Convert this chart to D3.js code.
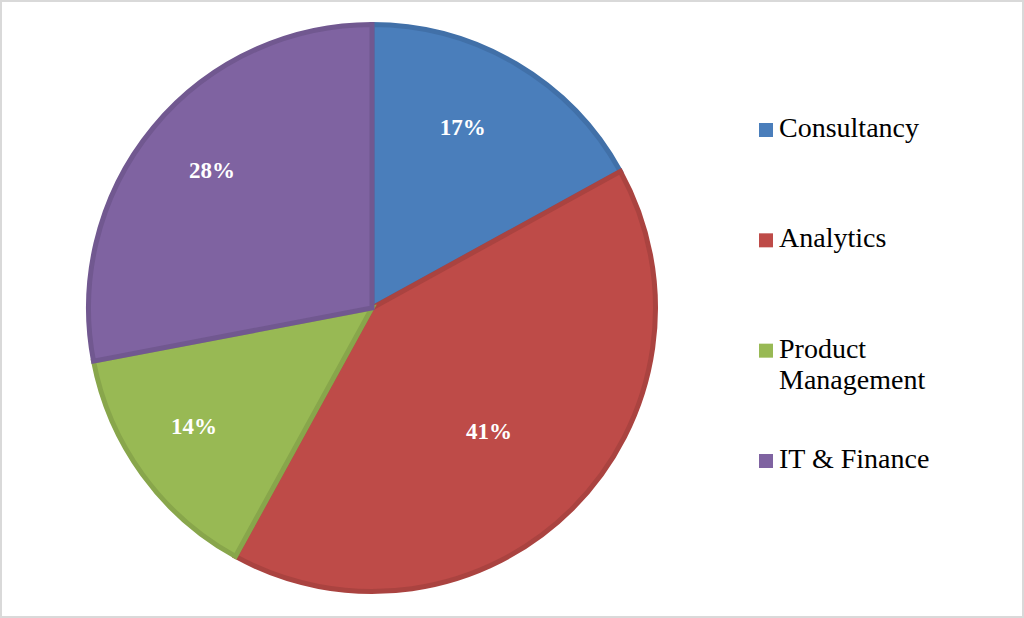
<!DOCTYPE html>
<html>
<head>
<meta charset="utf-8">
<script src="https://cdn.jsdelivr.net/npm/d3@7"></script>
<style>
  html, body { margin: 0; padding: 0; background: #fff; }
  svg { display: block; }
  .serif { font-family: "Liberation Serif", "Times New Roman", Times, serif; }
</style>
</head>
<body>
<div id="chart"></div>
<script>
// chart data
const categories = ["Consultancy", "Analytics", "Product Management", "IT & Finance"];
const values = [17, 41, 14, 28];
const legendLines = [["Consultancy"], ["Analytics"], ["Product", "Management"], ["IT & Finance"]];
const fills = ["#4A7EBB", "#BE4B48", "#98B954", "#7F63A1"];
const strokes = ["#4170A8", "#AA4340", "#88A64B", "#715890"];
// best-fit label placement: share of radius, and angle nudge in degrees
const labelPos = [0.708, 0.595, 0.747, 0.738];
const labelNudge = [-4, 1.6, 2.4, 1.1];

const width = 1024, height = 618;
const cx = 372, cy = 308, R = 286;

const svg = d3.select("#chart").append("svg")
  .attr("width", width)
  .attr("height", height);

// light frame around the chart
svg.append("rect")
  .attr("x", 1).attr("y", 1)
  .attr("width", width - 2).attr("height", height - 2)
  .attr("fill", "none")
  .attr("stroke", "#d9d9d9")
  .attr("stroke-width", 2);

const pie = d3.pie().sort(null).value(d => d);
const arcs = pie(values);

const arc = d3.arc().innerRadius(0).outerRadius(R - 2.5);

const g = svg.append("g").attr("transform", `translate(${cx},${cy})`);

g.selectAll("path.slice")
  .data(arcs)
  .enter().append("path")
  .attr("class", "slice")
  .attr("d", arc)
  .attr("fill", (d, i) => fills[i])
  .attr("stroke", (d, i) => strokes[i])
  .attr("stroke-width", 5);

g.selectAll("text.pct")
  .data(arcs)
  .enter().append("text")
  .attr("class", "pct serif")
  .attr("transform", (d, i) => {
    const a = (d.startAngle + d.endAngle) / 2 + labelNudge[i] * Math.PI / 180;
    const r = R * labelPos[i];
    return `translate(${r * Math.sin(a)},${-r * Math.cos(a)})`;
  })
  .attr("text-anchor", "middle")
  .attr("dy", "0.33em")
  .attr("fill", "#fff")
  .style("font-weight", "bold")
  .style("font-size", "23px")
  .text(d => d.data + "%");

// legend: first-line baselines
const legendY = d3.scalePoint()
  .domain(categories)
  .range([137, 468]);

const item = svg.append("g").selectAll("g.item")
  .data(categories)
  .enter().append("g")
  .attr("class", "item")
  .attr("transform", d => `translate(759,${legendY(d)})`);

item.append("rect")
  .attr("x", 0)
  .attr("y", -14)
  .attr("width", 14)
  .attr("height", 14)
  .attr("fill", (d, i) => fills[i]);

item.each(function (d, i) {
  const t = d3.select(this).append("text")
    .attr("class", "serif")
    .attr("fill", "#000")
    .style("font-size", "28px");
  legendLines[i].forEach((l, j) => {
    t.append("tspan")
      .attr("x", 20)
      .attr("y", j * 31)
      .text(l);
  });
});
</script>
</body>
</html>
